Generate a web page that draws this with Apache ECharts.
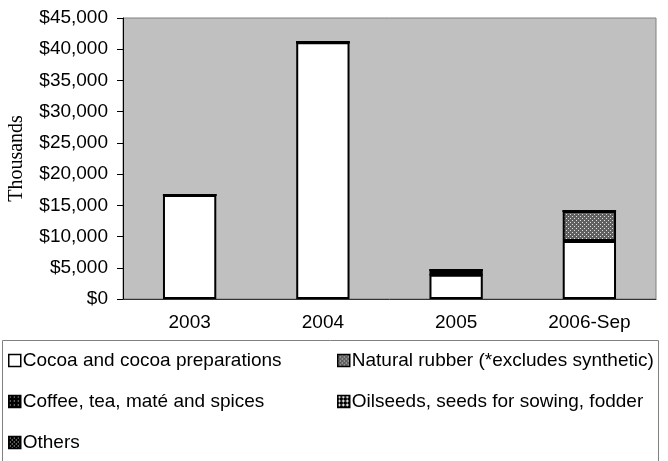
<!DOCTYPE html>
<html>
<head>
<meta charset="utf-8">
<script src="https://cdn.jsdelivr.net/npm/echarts@6/dist/echarts.min.js"></script>
<style>
  html, body { margin: 0; padding: 0; background: #fff; }
  #chart { width: 668px; height: 461px; }
</style>
</head>
<body>
<div id="chart"></div>
<script>
var years = ['2003', '2004', '2005', '2006-Sep']
var cocoa = [16650, 41100, 3900, 9300]
var rubber = [0, 0, 0, 4800]
var coffee = [0, 0, 750, 0]
var oilseeds = [0, 0, 0, 0]
var others = [0, 0, 0, 0]

// little fill patterns like the old office chart
function pattern(bg, fg, cells, size) {
  var c = document.createElement('canvas')
  c.width = size
  c.height = size
  var ctx = c.getContext('2d')
  ctx.fillStyle = bg
  ctx.fillRect(0, 0, size, size)
  ctx.fillStyle = fg
  cells.forEach(function (p) { ctx.fillRect(p[0], p[1], 1, 1) })
  return { image: c, repeat: 'repeat' }
}

var rubberFill = pattern('#606060', '#e0e0e0', [[0, 0], [2, 2]], 4)
var coffeeFill = pattern('#000000', '#ffffff', [[1, 1]], 4)
var oilFill = pattern('#000000', '#ffffff', [[1, 0], [1, 1], [1, 2], [0, 1], [2, 1]], 4)
var othersFill = pattern('#000000', '#ffffff', [[1, 1], [3, 3]], 4)

var font = 'Arial, "Liberation Sans", sans-serif'
var fs = 19

function bar(name, data, fill) {
  return {
    name: name,
    type: 'bar',
    stack: 'total',
    barWidth: '40%',
    data: data,
    itemStyle: { color: fill, borderColor: '#000', borderWidth: 2 }
  }
}

function legendCol(left, names) {
  return {
    orient: 'vertical', left: left, top: 351, itemGap: 22, padding: 0,
    itemWidth: 12, itemHeight: 12, icon: 'rect',
    itemStyle: { borderWidth: 1.5, borderColor: '#000' },
    textStyle: { fontSize: fs, fontFamily: font, color: '#000', padding: [0, 0, 0, -3] },
    data: names
  }
}

var chart = echarts.init(document.getElementById('chart'))
chart.setOption({
  animation: false,
  textStyle: { fontFamily: font, color: '#000' },
  grid: {
    left: 123, right: 12, top: 18, bottom: 162,
    containLabel: false, outerBoundsMode: 'none',
    show: true, backgroundColor: '#c0c0c0', borderColor: '#808080', borderWidth: 1
  },
  graphic: [{
    type: 'rect',
    shape: { x: 2.5, y: 340.5, width: 656, height: 140 },
    style: { fill: 'none', stroke: '#808080', lineWidth: 1 }
  }],
  legend: [
    legendCol(8, ['Cocoa and cocoa preparations', 'Coffee, tea, maté and spices', 'Others']),
    legendCol(337, ['Natural rubber (*excludes synthetic)', 'Oilseeds, seeds for sowing, fodder'])
  ],
  xAxis: {
    type: 'category',
    data: years,
    axisLine: { lineStyle: { color: '#333', width: 1 } },
    axisTick: { length: 6, lineStyle: { color: '#000' } },
    axisLabel: { fontSize: fs, color: '#000', margin: 14 }
  },
  yAxis: {
    type: 'value',
    min: 0, max: 45000, interval: 5000,
    name: 'Thousands',
    nameLocation: 'middle',
    nameGap: 96,
    nameTextStyle: { fontFamily: '"Liberation Serif", "Times New Roman", serif', fontSize: 20, color: '#000' },
    axisLine: { show: true, lineStyle: { color: '#000', width: 1 } },
    axisTick: { show: true, length: 6, lineStyle: { color: '#000' } },
    splitLine: { show: false },
    axisLabel: {
      fontSize: fs, color: '#000', margin: 15,
      formatter: function (v) { return '$' + String(v).replace(/\B(?=(\d{3})+(?!\d))/g, ',') }
    }
  },
  series: [
    bar('Cocoa and cocoa preparations', cocoa, '#ffffff'),
    bar('Natural rubber (*excludes synthetic)', rubber, rubberFill),
    bar('Coffee, tea, maté and spices', coffee, coffeeFill),
    bar('Oilseeds, seeds for sowing, fodder', oilseeds, oilFill),
    bar('Others', others, othersFill)
  ]
})
</script>
</body>
</html>
